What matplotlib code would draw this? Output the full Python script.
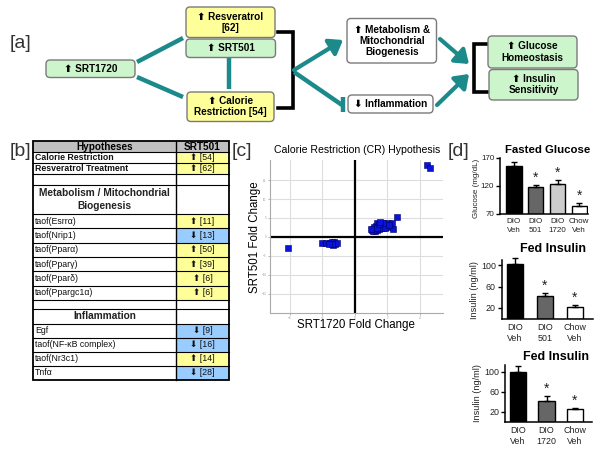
import matplotlib
matplotlib.use("Agg")
import matplotlib.pyplot as plt
from matplotlib.patches import FancyBboxPatch, Rectangle
import numpy as np

plt.rcParams['font.family'] = ['Liberation Sans', 'DejaVu Sans']

# ---------------- data ----------------
# [a] diagram labels
box_srt1720 = "⬆ SRT1720"
box_resv = "⬆ Resveratrol\n[62]"
box_srt501 = "⬆ SRT501"
box_cr = "⬆ Calorie\nRestriction [54]"
box_metab = "⬆ Metabolism &\nMitochondrial\nBiogenesis"
box_infl = "⬇ Inflammation"
box_gluc = "⬆ Glucose\nHomeostasis"
box_ins = "⬆ Insulin\nSensitivity"

# [b] table
hyp_labels = ["Calorie Restriction", "Resveratrol Treatment"]
hyp_refs = [54, 62]
hyp_dirs = ["up", "up"]
metab_title = "Metabolism / Mitochondrial\nBiogenesis"
metab_labels = ["taof(Esrrα)", "taof(Nrip1)", "taof(Pparα)", "taof(Pparγ)",
                "taof(Pparδ)", "taof(Ppargc1α)"]
metab_refs = [11, 13, 50, 39, 6, 6]
metab_dirs = ["up", "down", "up", "up", "up", "up"]
infl_title = "Inflammation"
infl_labels = ["Egf", "taof(NF-κB complex)", "taof(Nr3c1)", "Tnfα"]
infl_refs = [9, 16, 14, 28]
infl_dirs = ["down", "down", "up", "down"]

# [c] scatter
srt1720_fc = [1.03, 1.13, 1.23, 1.29, 1.33, 1.44, 1.54, 1.64, 1.70, 1.78,
              1.91, 1.99, 2.05, 2.15, 2.26, 2.36, 2.61, 1.23, 1.09, 1.37,
              1.50, 1.58, 1.17, 1.33, 1.85, 2.11, 1.74, 1.46, 0.98, 1.54,
              -2.00, -1.81, -1.54, -1.44, -1.34, -1.30, -1.23, -1.09, -1.40, -1.60,
              -4.14, 4.41, 4.62]
srt501_fc = [1.84, 2.10, 2.46, 2.98, 3.60, 2.72, 3.16, 3.60, 2.28, 2.72,
             3.33, 2.98, 3.60, 2.72, 3.60, 2.10, 5.26, 1.58, 1.58, 1.84,
             2.10, 2.46, 2.72, 2.28, 2.46, 3.16, 3.60, 3.33, 2.10, 4.04,
             -1.50, -1.67, -1.58, -1.40, -2.10, -1.40, -1.93, -1.58, -1.75, -1.90,
             -2.97, 18.9, 18.1]

# [d] bar charts
gluc_groups = ["DIO\nVeh", "DIO\n501", "DIO\n1720", "Chow\nVeh"]
gluc_means = [155.7, 117.7, 123.6, 84.3]
gluc_err = [7.7, 4.1, 7.1, 4.7]
gluc_sig = [False, True, True, True]
gluc_colors = ["black", "#666666", "#cccccc", "white"]

ins501_groups = ["DIO\nVeh", "DIO\n501", "Chow\nVeh"]
ins501_means = [102, 41.4, 22.5]
ins501_err = [11, 7, 3.2]
ins501_sig = [False, True, True]
ins501_colors = ["black", "#666666", "white"]

ins1720_groups = ["DIO\nVeh", "DIO\n1720", "Chow\nVeh"]
ins1720_means = [100, 42, 24.8]
ins1720_err = [12, 9.4, 2]
ins1720_sig = [False, True, True]
ins1720_colors = ["black", "#666666", "white"]

# ---------------- figure ----------------
W, H = 600, 453
fig = plt.figure(figsize=(W / 100, H / 100), dpi=100)
ax0 = fig.add_axes([0, 0, 1, 1])
ax0.set_xlim(0, W)
ax0.set_ylim(H, 0)
ax0.axis('off')

GREEN = "#ccf5cc"
YELLOW = "#ffff99"
BLUE = "#99ccff"
TEAL = "#1c8a8a"
EDGE = "#7a7a7a"


def rbox(x0, y0, x1, y1, fc, text, fs=7.2):
    p = FancyBboxPatch((x0, y0), x1 - x0, y1 - y0,
                       boxstyle="round,pad=0,rounding_size=4",
                       fc=fc, ec=EDGE, lw=1.0, zorder=3)
    ax0.add_patch(p)
    ax0.text((x0 + x1) / 2, (y0 + y1) / 2, text, ha='center', va='center',
             fontsize=fs, fontweight='bold', linespacing=1.15, zorder=4)


# panel labels
for lab, (lx, ly) in {"[a]": (10, 44), "[b]": (10, 151), "[c]": (232, 152),
                      "[d]": (448, 152)}.items():
    ax0.text(lx, ly, lab, fontsize=14, color='#333333', va='center', ha='left')

# teal connectors
ax0.plot([137, 183], [62, 38], color=TEAL, lw=3.2, solid_capstyle='butt', zorder=2)
ax0.plot([137, 183], [77, 97], color=TEAL, lw=3.2, solid_capstyle='butt', zorder=2)
ax0.plot([228.5, 228.5], [58, 89], color=TEAL, lw=3.2, solid_capstyle='butt', zorder=2)

# boxes
rbox(46, 60, 135, 77.5, GREEN, box_srt1720)
rbox(186, 7, 275, 37.5, YELLOW, box_resv)
rbox(186, 39, 275.5, 57.5, GREEN, box_srt501)
rbox(187, 92, 274, 121.5, YELLOW, box_cr)
rbox(347, 18.5, 436.5, 63, "white", box_metab)
rbox(348, 95, 433, 113, "white", box_infl)
rbox(488, 36, 577, 68, GREEN, box_gluc)
rbox(489, 69.5, 578, 100, GREEN, box_ins)

# brackets
ax0.plot([278, 293, 293, 278], [32, 32, 108, 108], color='black', lw=2.6,
         solid_joinstyle='miter', zorder=2)
ax0.plot([487, 474, 474, 487], [44, 44, 92, 92], color='black', lw=2.6,
         solid_joinstyle='miter', zorder=2)

# arrows
arr = dict(arrowstyle='-|>,head_length=0.55,head_width=0.4', color=TEAL, lw=3,
           shrinkA=0, shrinkB=0, mutation_scale=14)
ax0.annotate('', xy=(343, 40), xytext=(294, 70), arrowprops=arr, zorder=2)
ax0.annotate('', xy=(469, 64), xytext=(440, 39), arrowprops=arr, zorder=2)
ax0.annotate('', xy=(469, 74), xytext=(437, 105), arrowprops=arr, zorder=2)
ax0.plot([294, 342], [72, 105], color=TEAL, lw=3.2, solid_capstyle='butt', zorder=2)
ax0.plot([343, 343], [96.5, 112], color=TEAL, lw=3.2, solid_capstyle='butt', zorder=2)

# ---------------- table [b] ----------------
tx0, tx1, tx2 = 33, 176, 229
rows = []  # (height, left_text, kind, ref, dir)
rows.append((11.3, "Hypotheses", "header", None, "SRT501"))
for l, r, d in zip(hyp_labels, hyp_refs, hyp_dirs):
    rows.append((11, l, "bold", r, d))
rows.append((10.4, "", "blank", None, None))
rows.append((29.3, metab_title, "section", None, None))
for l, r, d in zip(metab_labels, metab_refs, metab_dirs):
    rows.append((14.35, l, "normal", r, d))
rows.append((8.8, "", "blank", None, None))
rows.append((15, infl_title, "section", None, None))
for l, r, d in zip(infl_labels, infl_refs, infl_dirs):
    rows.append((13.9, l, "normal", r, d))

y = 141.0
for h, lt, kind, ref, d in rows:
    yc = y + h / 2
    if kind == "header":
        ax0.add_patch(Rectangle((tx0, y), tx2 - tx0, h, fc="#c0c0c0", ec='none'))
        ax0.text((tx0 + tx1) / 2, yc, lt, ha='center', va='center',
                 fontsize=7.2, fontweight='bold')
        ax0.text((tx1 + tx2) / 2, yc, d, ha='center', va='center',
                 fontsize=7.2, fontweight='bold')
    elif kind == "section":
        ax0.text((tx0 + tx1) / 2, yc, lt, ha='center', va='center',
                 fontsize=7.3, fontweight='bold', color='#222222', linespacing=1.35)
    elif kind in ("bold", "normal"):
        fc = YELLOW if d == "up" else BLUE
        ax0.add_patch(Rectangle((tx1, y), tx2 - tx1, h, fc=fc, ec='none'))
        ax0.text(tx0 + 2, yc, lt, ha='left', va='center', fontsize=6.3,
                 fontweight='bold' if kind == "bold" else 'normal', color='#111111')
        arrow = "⬆" if d == "up" else "⬇"
        ax0.text((tx1 + tx2) / 2, yc, f"{arrow} [{ref}]", ha='center',
                 va='center', fontsize=6.3, color='#111111')
    if kind != "header":
        ax0.plot([tx0, tx2], [y, y], color='black', lw=0.8)
    y += h
ax0.plot([tx1, tx1], [141, y], color='black', lw=1.0)
ax0.add_patch(Rectangle((tx0, 141), tx2 - tx0, y - 141, fc='none', ec='black', lw=1.3))

# ---------------- scatter [c] ----------------
def add_px_axes(x0, y0, x1, y1):
    return fig.add_axes([x0 / W, 1 - y1 / H, (x1 - x0) / W, (y1 - y0) / H])

axc = add_px_axes(270, 160, 443, 313)
axc.set_xlim(-5.23, 5.42)
axc.set_ylim(-20.1, 20.3)
axc.set_xticks([-4, -2, 0, 2, 4])
axc.set_yticks([-15, -10, -5, 0, 5, 10, 15])
axc.grid(True, color='#dddddd', lw=0.8)
axc.set_axisbelow(True)
axc.axhline(0, color='black', lw=1.6, zorder=2)
axc.axvline(0, color='black', lw=1.6, zorder=2)
axc.scatter(srt1720_fc, srt501_fc, marker='s', s=15, c='#0a14d8',
            edgecolors='#000066', linewidths=0.4, zorder=3)
axc.tick_params(labelsize=2.2, colors='#999999', length=1.5, width=0.5, pad=1)
for s in ['top', 'right']:
    axc.spines[s].set_visible(False)
for s in ['left', 'bottom']:
    axc.spines[s].set_color('#aaaaaa')
    axc.spines[s].set_linewidth(0.8)
ax0.text(357, 150, "Calorie Restriction (CR) Hypothesis", ha='center', va='center',
         fontsize=7.6)
ax0.text(356, 325, "SRT1720 Fold Change", ha='center', va='center', fontsize=8.3)
ax0.text(255, 237, "SRT501 Fold Change", ha='center', va='center', fontsize=8.3,
         rotation=90)

# ---------------- bar charts [d] ----------------
def bar_chart(box, xlim, ylim, yticks, groups, means, errs, sigs, colors,
              width, title, tpos, tfs, ylabel, ypos, yfs, tickfs):
    ax = add_px_axes(*box)
    x = np.arange(len(groups))
    ax.bar(x, means, width=width, color=colors, edgecolor='black', lw=1.0, zorder=2)
    ax.errorbar(x, means, yerr=[np.zeros(len(errs)), errs], fmt='none',
                ecolor='black', elinewidth=1.0, capsize=2.5, capthick=1.0,
                zorder=3, clip_on=False)
    for xi, m, e, s in zip(x, means, errs, sigs):
        if s:
            ax.text(xi, m + e + (ylim[1] - ylim[0]) * 0.005, "*", ha='center',
                    va='bottom', fontsize=10, clip_on=False, color='#222222')
    ax.set_xlim(*xlim)
    ax.set_ylim(*ylim)
    ax.set_yticks(yticks)
    ax.set_xticks(x)
    ax.set_xticklabels(groups, fontsize=tickfs, linespacing=1.35, color='#222222')
    ax.tick_params(axis='y', labelsize=tickfs, length=3, width=1, pad=1.2,
                   labelcolor='#222222')
    ax.tick_params(axis='x', length=0, pad=3)
    for s in ['top', 'right']:
        ax.spines[s].set_visible(False)
    for s in ['left', 'bottom']:
        ax.spines[s].set_linewidth(1.1)
    ax.patch.set_alpha(0)
    ax0.text(tpos[0], tpos[1], title, ha='center', va='center', fontsize=tfs,
             fontweight='bold')
    ax0.text(ypos[0], ypos[1], ylabel, ha='center', va='center', fontsize=yfs,
             rotation=90, color='#222222')
    return ax


bar_chart((500, 158, 588, 214), (-0.64, 3.4), (70, 170), [70, 120, 170],
          gluc_groups, gluc_means, gluc_err, gluc_sig, gluc_colors, 0.7,
          "Fasted Glucose", (548, 150), 8.2, "Glucose (mg/dL)", (476.5, 188), 5.8, 5.8)
bar_chart((501.7, 260, 593, 318.5), (-0.44, 2.6), (0, 110), [20, 60, 100],
          ins501_groups, ins501_means, ins501_err, ins501_sig, ins501_colors, 0.53,
          "Fed Insulin", (553, 249), 9, "Insulin (ng/ml)", (474.5, 290), 6.6, 6.4)
bar_chart((505, 365, 592, 421.5), (-0.46, 2.6), (0, 113), [20, 60, 100],
          ins1720_groups, ins1720_means, ins1720_err, ins1720_sig, ins1720_colors, 0.57,
          "Fed Insulin", (556, 357), 9, "Insulin (ng/ml)", (478, 393), 6.6, 6.4)

fig.savefig("out.png", dpi=100)
